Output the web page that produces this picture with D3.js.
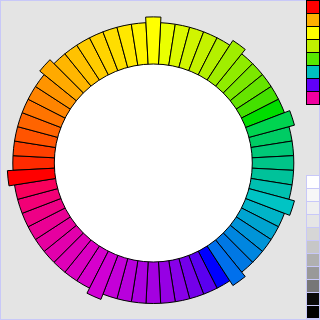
<!DOCTYPE html>
<html>
<head>
<meta charset="utf-8">
<script src="https://cdn.jsdelivr.net/npm/d3@7"></script>
<style>
  body { margin: 0; background: #e4e4e4; }
  svg { display: block; }
</style>
</head>
<body>
<div id="chart"></div>
<script>
// colour wheel: 60 segments, clockwise from 12 o'clock
const segColors = [
  "#ffff00", "#eaff00", "#dcfa00", "#d0f500", "#c4f200", "#b4f000",
  "#a0ee00", "#90ec00", "#7ce800", "#66e400", "#44e000", "#00dd00",
  "#00d450", "#00cc64", "#00c878", "#00c488", "#00c29a", "#00c0b0",
  "#00c4c4", "#00b4c8", "#00a4d0", "#0094d8", "#0086e0", "#0078e4",
  "#0070ec", "#0000ff", "#5a00f0", "#7400ea", "#8800e8", "#9600e4",
  "#a400e0", "#ac00e0", "#b800dc", "#c400d8", "#d000d4", "#d600cc",
  "#da00c2", "#de00b8", "#e200ac", "#e600a0", "#ea0094", "#ee0086",
  "#f20076", "#f8005c", "#ff0000", "#ff2a00", "#ff4000", "#ff5400",
  "#ff6400", "#ff7400", "#ff8400", "#ff9400", "#ffaa00", "#ffb600",
  "#ffc200", "#ffcc00", "#ffd400", "#ffde00", "#ffe800", "#fff400"
];
// outer length of each segment (a few stick out)
const segValues = [
  104, 100, 100, 100, 100, 100, 104, 100, 100, 100, 100, 100,
  104, 100, 100, 100, 100, 100, 104, 100, 100, 100, 100, 100,
  104, 100, 100, 100, 100, 100, 100, 100, 100, 100, 104, 100,
  100, 100, 100, 100, 100, 100, 100, 100, 104, 100, 100, 100,
  100, 100, 100, 100, 104, 100, 100, 100, 100, 100, 100, 100
];
const legendColors = ["#ff0000", "#ffb000", "#ffff00", "#c0f000", "#58e800", "#00c0c0", "#6000f8", "#f000a0"];
const legendGrays = ["#ffffff", "#f7f7f7", "#efefef", "#e5e5e5", "#d6d6d6", "#c7c7c7", "#b0b0b0", "#999999", "#777777", "#0a0a0a", "#000000"];

const width = 320, height = 320;
const cx = 153.3, cy = 163;
const innerR = 99;

const svg = d3.select("#chart").append("svg")
    .attr("width", width)
    .attr("height", height);

svg.append("rect")
    .attr("width", width).attr("height", height)
    .attr("fill", "#e4e4e4");

svg.append("rect")
    .attr("x", 0.5).attr("y", 0.5)
    .attr("width", width - 1).attr("height", height - 1)
    .attr("fill", "none")
    .attr("stroke", "#c8c8f8");

const r = d3.scaleLinear().domain([0, 100]).range([0, 140.5]);
const angle = d3.scaleLinear().domain([0, segColors.length]).range([0, 2 * Math.PI]);
const half = Math.PI / segColors.length;

const arc = d3.arc()
    .innerRadius(0)
    .outerRadius(d => r(d.value))
    .startAngle(d => angle(d.i) - half)
    .endAngle(d => angle(d.i) + half);

const segs = segColors.map((c, i) => ({ i: i, color: c, value: segValues[i] }));
// plain ones first, then the ones that stick out on top
segs.sort((a, b) => a.value - b.value);

const g = svg.append("g").attr("transform", `translate(${cx},${cy})`);

g.selectAll("path")
    .data(segs)
    .enter()
    .append("path")
    .attr("d", arc)
    .attr("fill", d => d.color)
    .attr("stroke", "#000")
    .attr("stroke-width", 1);

g.append("circle")
    .attr("r", innerR)
    .attr("fill", "#fff")
    .attr("stroke", "#000")
    .attr("stroke-width", 1);

// colour legend
const boxH = 13;
svg.append("g").selectAll("rect")
    .data(legendColors)
    .enter()
    .append("rect")
    .attr("x", 306.5)
    .attr("y", (d, i) => 0.5 + i * boxH)
    .attr("width", 13).attr("height", boxH)
    .attr("fill", d => d)
    .attr("stroke", "#000");

svg.append("line")
    .attr("x1", 319.5).attr("x2", 319.5)
    .attr("y1", 105).attr("y2", 120)
    .attr("stroke", "#c8c8f8");

// grey legend
svg.append("g").selectAll("rect")
    .data(legendGrays)
    .enter()
    .append("rect")
    .attr("x", 306.5)
    .attr("y", (d, i) => 175.5 + i * boxH)
    .attr("width", 13).attr("height", boxH)
    .attr("fill", d => d)
    .attr("stroke", "#c8c8f8");
</script>
</body>
</html>
